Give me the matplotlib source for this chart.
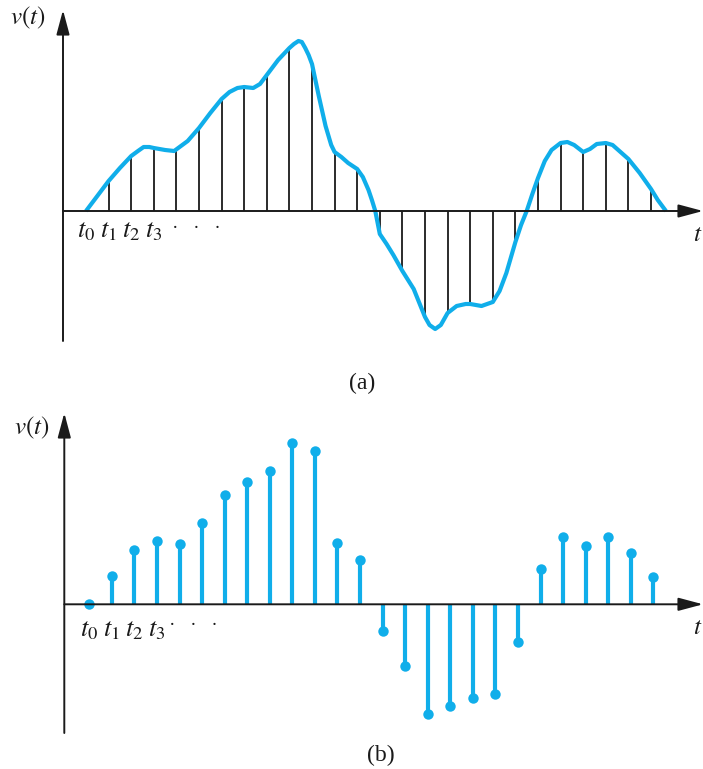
"""
Sampling of a continuous signal v(t): (a) curve with sample lines, (b) discrete samples.
Saves to out.png
"""
import matplotlib
matplotlib.use('Agg')
import matplotlib.pyplot as plt

plt.rcParams['mathtext.fontset'] = 'stix'
plt.rcParams['font.family'] = ['Liberation Serif', 'DejaVu Serif']

W, H = 703, 769
BLUE = '#10AEEA'

# sample index n = 0..25
samples_n = list(range(26))

# (a) sample heights
top_v = [0, 30, 55, 63, 60, 83, 112, 124, 136, 163, 147, 59, 42,
         -23, -60, -106, -102, -93, -91, -31, 33, 68, 59, 68, 52, 22]

# (a) continuous curve, read at knots along t (in units of sample spacing)
curve_t = [0, 0.5, 1, 1.5, 2, 2.3, 2.55, 2.8, 3, 3.5, 3.9, 4.5, 5, 5.5, 6, 6.35,
           6.7, 7, 7.4, 7.7, 8, 8.5, 9, 9.2, 9.4, 9.55, 9.7, 9.85, 10, 10.3,
           10.6, 10.85, 11, 11.3, 11.6, 12, 12.25, 12.5, 12.65, 12.8, 13, 13.3,
           13.6, 14, 14.5, 15, 15.2, 15.45, 15.7, 16, 16.4, 16.8, 17, 17.5, 18,
           18.3, 18.6, 19, 19.25, 19.5, 19.75, 20, 20.3, 20.6, 21, 21.3, 21.6,
           22, 22.3, 22.6, 23, 23.3, 23.6, 24, 24.5, 25, 25.3, 25.66]
curve_v = [0, 15, 30, 43, 55, 60, 64, 64, 63, 61, 60, 70, 83, 98, 112, 119,
           123, 124, 123, 127, 136, 151, 163, 167, 170, 169, 163, 156, 147, 115,
           85, 66, 59, 54, 48, 42, 34, 21, 11, 0, -23, -33, -44, -60, -78, -106,
           -114, -118, -114, -102, -95, -93, -93, -95, -91, -80, -62, -31, -14, 0,
           17, 33, 50, 61, 68, 69, 66, 59, 62, 67, 68, 66, 60, 52, 38, 22, 11, 0]

# (b) discrete sample values
bot_v = [0, 28, 54, 63, 60, 81, 109, 122, 133, 161, 153, 61, 44,
         -27, -62, -110, -102, -94, -90, -38, 35, 67, 58, 67, 51, 27]

tick_labels = ['$t_0$', '$t_1$', '$t_2$', '$t_3$']


def px_axes(fig, left, right, top, bottom):
    return fig.add_axes([left / W, 1 - bottom / H, (right - left) / W, (bottom - top) / H])


def draw_axes(ax):
    x0, x1 = ax.get_xlim()
    y0, y1 = ax.get_ylim()
    arrow = dict(arrowstyle='-|>,head_length=0.75,head_width=0.2', mutation_scale=20,
                 color='#1a1a1a', lw=1.4, shrinkA=0, shrinkB=0)
    ax.annotate('', xy=(x0, y1), xytext=(x0, y0), arrowprops=arrow, annotation_clip=False)
    ax.annotate('', xy=(x1, 0), xytext=(x0, 0), arrowprops=arrow, annotation_clip=False)
    ax.axis('off')


fig = plt.figure(figsize=(W / 100, H / 100), dpi=100)

# ---- (a) ----
ax1 = px_axes(fig, 63, 703, 10, 341)
ax1.set_xlim((63 - 86) / 22.6, (703 - 86) / 22.6)
ax1.set_ylim(211 - 341, 211 - 10)
ax1.vlines(samples_n, 0, top_v, color='#1a1a1a', lw=1.3, zorder=2)
ax1.plot(curve_t, curve_v, color=BLUE, lw=3.0, solid_joinstyle='round',
         solid_capstyle='butt', zorder=3)
draw_axes(ax1)
for n, lab in enumerate(tick_labels):
    ax1.text(n, -26, lab, ha='center', va='baseline', fontsize=19, color='#1a1a1a')
ax1.text(4.9, -22, '·   ·   ·', ha='center', va='baseline', fontsize=14, color='#1a1a1a')
fig.text(702 / W, 1 - 241 / H, '$t$', ha='right', va='baseline', fontsize=18, color='#1a1a1a')
fig.text(10 / W, 1 - 24 / H, '$v(t)$', ha='left', va='baseline', fontsize=18, color='#1a1a1a')
fig.text(362 / W, 1 - 389 / H, '(a)', ha='center', va='baseline', fontsize=17, color='#1a1a1a')

# ---- (b) ----
ax2 = px_axes(fig, 64.3, 703, 413, 733)
ax2.set_xlim((64.3 - 89.3) / 22.56, (703 - 89.3) / 22.56)
ax2.set_ylim(604.3 - 733, 604.3 - 413)
ax2.vlines(samples_n, 0, bot_v, color=BLUE, lw=3.0, zorder=2)
ax2.plot(samples_n, bot_v, 'o', color=BLUE, ms=7.5, mew=0, zorder=3)
draw_axes(ax2)
for n, lab in enumerate(tick_labels):
    ax2.text(n, -32, lab, ha='center', va='baseline', fontsize=19, color='#1a1a1a')
ax2.text(4.6, -26, '·   ·   ·', ha='center', va='baseline', fontsize=14, color='#1a1a1a')
fig.text(702 / W, 1 - 634 / H, '$t$', ha='right', va='baseline', fontsize=18, color='#1a1a1a')
fig.text(14 / W, 1 - 434 / H, '$v(t)$', ha='left', va='baseline', fontsize=18, color='#1a1a1a')
fig.text(381 / W, 1 - 761 / H, '(b)', ha='center', va='baseline', fontsize=17, color='#1a1a1a')

plt.savefig('out.png', dpi=100)
print('Saved out.png')
